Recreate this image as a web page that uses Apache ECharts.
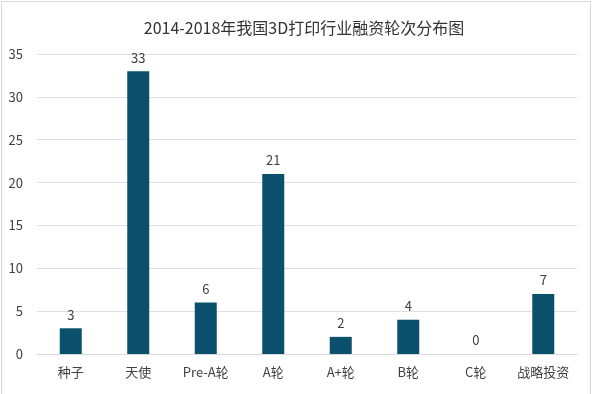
<!DOCTYPE html>
<html><head><meta charset="utf-8">
<script src="https://cdn.jsdelivr.net/npm/echarts@6/dist/echarts.min.js"></script>
<style>html,body{margin:0;padding:0;background:#fff}#c{width:600px;height:394px}</style>
</head><body><div id="c"></div>
<script>
var title = '2014-2018年我国3D打印行业融资轮次分布图';
var categories = ['种子','天使','Pre-A轮','A轮','A+轮','B轮','C轮','战略投资'];
var values = [3,33,6,21,2,4,0,7];
var yTicks = [0,5,10,15,20,25,30,35];
var font = '"Noto Sans CJK SC", "Open Sans", sans-serif';
var chart = echarts.init(document.getElementById('c'));
chart.setOption({
  animation:false,
  title:{text:title,left:299,top:15,textAlign:'center',textStyle:{fontSize:16,fontWeight:'normal',color:'#333',fontFamily:font}},
  graphic:[{type:'rect',shape:{x:1.5,y:1.5,width:589,height:400},style:{fill:'none',stroke:'#d9d9d9',lineWidth:1},silent:true}],
  grid:{left:37,right:23,top:54,bottom:40,containLabel:false},
  xAxis:{type:'category',data:categories,axisTick:{show:false},
    axisLine:{lineStyle:{color:'#d9d9d9'}},
    axisLabel:{interval:0,hideOverlap:false,color:'#404040',fontSize:13,margin:12,fontFamily:font}},
  yAxis:{type:'value',min:yTicks[0],max:yTicks[yTicks.length-1],interval:5,
    axisLine:{show:false},axisTick:{show:false},
    splitLine:{lineStyle:{color:'#e0e0e0'}},
    axisLabel:{color:'#404040',fontSize:13,margin:14,fontFamily:font}},
  series:[{type:'bar',data:values,barWidth:22,itemStyle:{color:'#0b506d'},
    label:{show:true,position:'top',distance:7,color:'#404040',fontSize:13,fontFamily:font}}]
});
</script></body></html>
